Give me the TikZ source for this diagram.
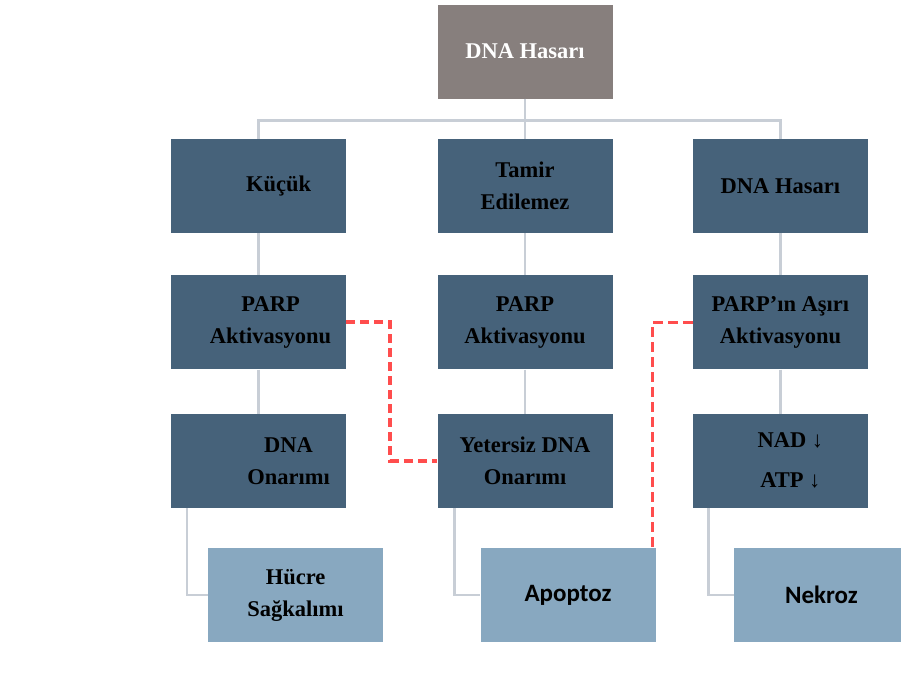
\documentclass[tikz,border=0pt]{standalone}
\usepackage{fontspec}
\setmainfont{Liberation Serif}
\newfontfamily\calibrifont{Carlito}
\usetikzlibrary{positioning}

\definecolor{darkbox}{HTML}{46627A}
\definecolor{lightbox}{HTML}{88A8C0}
\definecolor{topbox}{HTML}{877F7D}
\definecolor{linkgray}{HTML}{C8CED6}
\definecolor{dashred}{HTML}{FF4D4D}

\newcommand{\nudge}[1]{\hspace*{#1}}

\begin{document}
\begin{tikzpicture}[x=1pt, y=1pt,
    box/.style={rectangle, minimum width=175pt, minimum height=94pt, inner sep=0pt,
      align=center, font=\bfseries\fontsize{22.5}{32}\selectfont},
    dark/.style={box, fill=darkbox, text=black},
    light/.style={box, fill=lightbox, text=black},
    sans/.style={font=\calibrifont\bfseries\fontsize{25}{30}\selectfont},
    link/.style={draw=linkgray, line width=2.5pt},
    flow/.style={draw=dashred, line width=4pt, dash pattern=on 9pt off 5pt}]

    \useasboundingbox (0,0) rectangle (901,-675);

    % Define nodes
    \node[box, fill=topbox, text=white] (dmg) at (525,-51.5) {DNA Hasarı};
    \node[dark, below=40pt of dmg]       (tamir)    {Tamir\\Edilemez};
    \node[dark, left=91pt of tamir]      (kucuk)    {\nudge{40pt}Küçük};
    \node[dark, right=80pt of tamir]     (hasar)    {DNA Hasarı};
    \node[dark, below=42pt of kucuk]     (parpl)    {\nudge{24pt}PARP\\\nudge{24pt}Aktivasyonu};
    \node[dark, below=42pt of tamir]     (parpm)    {PARP\\Aktivasyonu};
    \node[dark, below=42pt of hasar]     (parpr)    {PARP’ın Aşırı\\Aktivasyonu};
    \node[dark, below=44pt of parpl]     (onarim)   {\nudge{60pt}DNA\\\nudge{60pt}Onarımı};
    \node[dark, below=44pt of parpm]     (yetersiz) {Yetersiz DNA\\Onarımı};
    \node[dark, below=44pt of parpr, font=\bfseries\fontsize{22.5}{40}\selectfont]
                                         (nadatp)   {\nudge{20pt}NAD ↓\\\nudge{20pt}ATP ↓};
    \node[light, below=40pt of onarim, xshift=37pt]        (hucre)  {Hücre\\Sağkalımı};
    \node[light, sans, below=40pt of yetersiz, xshift=43pt] (apop)   {Apoptoz};
    \node[light, sans, below=40pt of nadatp, xshift=41pt]   (nekroz) {Nekroz};

    % Connect the nodes
    \draw[link] (dmg.south) -- (tamir.north);
    \draw[link] (kucuk.north) -- ++(0,18) -| (hasar.north);
    \draw[link] (kucuk.south) -- (parpl.north) (parpl.south) -- (onarim.north);
    \draw[link] (tamir.south) -- (parpm.north) (parpm.south) -- (yetersiz.north);
    \draw[link] (hasar.south) -- (parpr.north) (parpr.south) -- (nadatp.north);
    \draw[link] ([xshift=16pt]onarim.south west) |- (hucre.west);
    \draw[link] ([xshift=17pt]yetersiz.south west) |- (apop.west);
    \draw[link] ([xshift=16pt]nadatp.south west) |- (nekroz.west);

    % PARP cross links
    \draw[flow] (parpl.east) -- ++(44,0) |- (yetersiz.west);
    \draw[flow, line width=2.5pt, dash pattern=on 10pt off 5pt]
      (parpr.west) -| ([xshift=-3pt]apop.north east);

\end{tikzpicture}
\end{document}
